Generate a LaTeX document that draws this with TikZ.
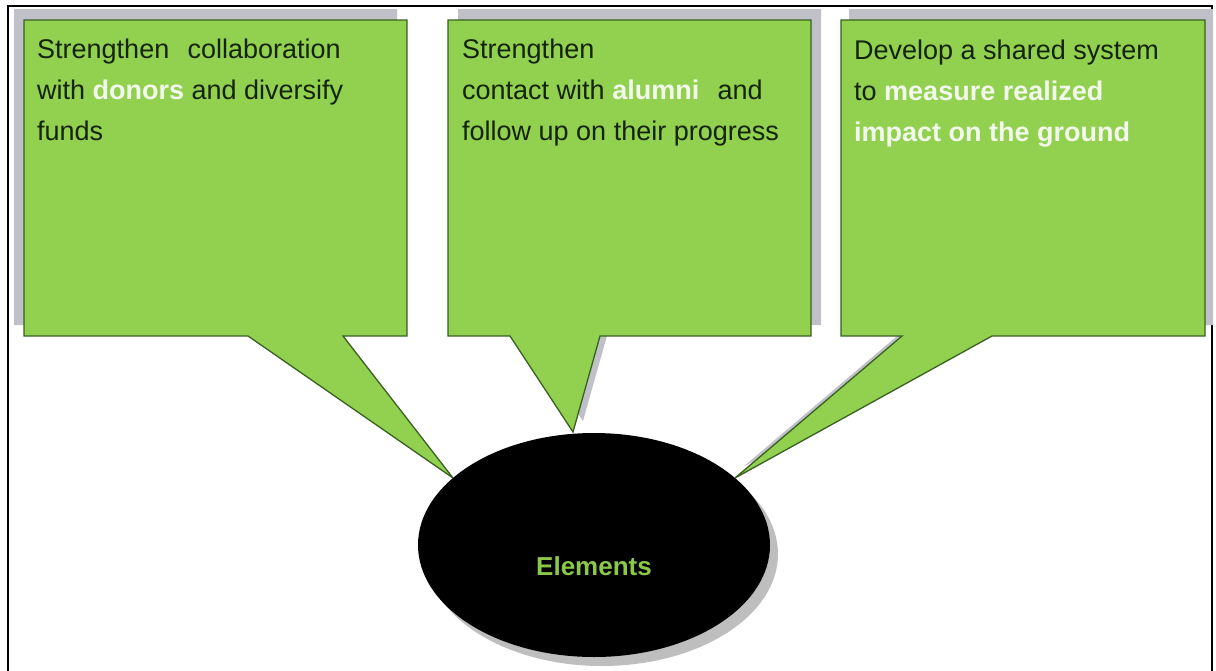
\documentclass[tikz,border=0pt]{standalone}
\usepackage{fontspec}
\setmainfont{Liberation Sans}
\usetikzlibrary{shapes.geometric}
\definecolor{calgreen}{RGB}{146,208,80}
\definecolor{caledge}{RGB}{58,96,34}
\definecolor{shadowgrey}{RGB}{192,192,200}
\definecolor{ellshadow}{RGB}{190,190,190}
\definecolor{txtdark}{RGB}{20,36,10}
\definecolor{txtlight}{RGB}{242,248,236}
\definecolor{elgreen}{RGB}{140,200,72}
\begin{document}
\begin{tikzpicture}[x=1pt,y=-1pt,
  callout/.style={fill=calgreen,draw=caledge,line width=1.3pt,line join=miter},
  calshadow/.style={fill=shadowgrey},
  boxtext/.style={anchor=base west,inner sep=0pt,text=txtdark,font=\fontsize{27}{41}\selectfont},
  frameline/.style={draw=black,line width=2.5pt}]
\useasboundingbox (0,0) rectangle (1216,670);
% outer frame (open at the bottom)
\draw[frameline] (8,672) -- (8,6) -- (1212,6) -- (1212,672);
% callout shadows
\begin{scope}[shift={(-10,-11)}]
  \fill[calshadow] (24,20) -- (407,20) -- (407,336) -- (343,336) -- (453,478) -- (248,336) -- (24,336) -- cycle;
\end{scope}
\begin{scope}[shift={(10,-11)}]
  \fill[calshadow] (448,20) -- (811,20) -- (811,336) -- (600,336) -- (573,432) -- (510,336) -- (448,336) -- cycle;
\end{scope}
\begin{scope}[shift={(8,-11)}]
  \fill[calshadow] (841,20) -- (1205,20) -- (1205,336) -- (992,336) -- (735,478) -- (902,336) -- (841,336) -- cycle;
\end{scope}
% callouts
\draw[callout] (24,20) -- (407,20) -- (407,336) -- (343,336) -- (453,478) -- (248,336) -- (24,336) -- cycle;
\draw[callout] (448,20) -- (811,20) -- (811,336) -- (600,336) -- (573,432) -- (510,336) -- (448,336) -- cycle;
\draw[callout] (841,20) -- (1205,20) -- (1205,336) -- (992,336) -- (735,478) -- (902,336) -- (841,336) -- cycle;
% ellipse
\fill[ellshadow] (602,554) ellipse [x radius=176pt, y radius=112pt];
\node[ellipse, fill=black, minimum width=352pt, minimum height=224pt, inner sep=0pt] (elem) at (594,545) {};
\node[anchor=base, inner sep=0pt, text=elgreen, font=\fontsize{26}{30}\selectfont\bfseries] (elemlabel) at (594,575) {Elements};
% texts
\node[boxtext] (t1) at (37,58) {\begin{tabular}[t]{@{}l@{}}Strengthen\hspace{0.4em} collaboration\\with \textcolor{txtlight}{\textbf{donors}} and diversify\\funds\end{tabular}};
\node[boxtext] (t2) at (462,58) {\begin{tabular}[t]{@{}l@{}}Strengthen\\contact with \textcolor{txtlight}{\textbf{alumni}}\hspace{0.4em} and\\follow up on their progress\end{tabular}};
\node[boxtext] (t3) at (854,59) {\begin{tabular}[t]{@{}l@{}}Develop a shared system\\to \textcolor{txtlight}{\textbf{measure realized}}\\\textcolor{txtlight}{\textbf{impact on the ground}}\end{tabular}};
\end{tikzpicture}
\end{document}
